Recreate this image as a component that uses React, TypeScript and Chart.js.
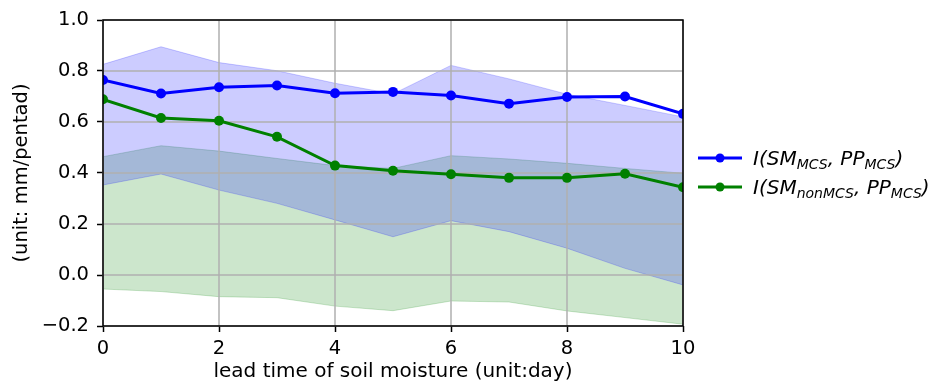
import React, { useEffect, useRef } from "react";
import { Chart, registerables } from "chart.js";

Chart.register(...registerables);

const leadDays = [0, 1, 2, 3, 4, 5, 6, 7, 8, 9, 10];
const mcsMean = [0.765, 0.712, 0.736, 0.743, 0.713, 0.718, 0.704, 0.672, 0.698, 0.7, 0.632];
const mcsUpper = [0.826, 0.895, 0.833, 0.801, 0.752, 0.71, 0.822, 0.769, 0.709, 0.665, 0.62];
const mcsLower = [0.353, 0.396, 0.333, 0.281, 0.216, 0.15, 0.213, 0.17, 0.105, 0.026, -0.039];
const nonMean = [0.689, 0.616, 0.605, 0.542, 0.429, 0.409, 0.395, 0.381, 0.381, 0.397, 0.344];
const nonUpper = [0.464, 0.507, 0.486, 0.457, 0.429, 0.418, 0.468, 0.455, 0.438, 0.418, 0.399];
const nonLower = [-0.055, -0.065, -0.085, -0.089, -0.122, -0.14, -0.102, -0.106, -0.141, -0.167, -0.193];

const yTicks = [-0.2, 0.0, 0.2, 0.4, 0.6, 0.8, 1.0];
const xTicks = [0, 2, 4, 6, 8, 10];

const xTitle = "lead time of soil moisture (unit:day)";
const yTitle = "(unit: mm/pentad)";

type Seg = { t: string; sub?: boolean };
const legendLabels: Seg[][] = [
  [{ t: "I(SM" }, { t: "MCS", sub: true }, { t: ", PP" }, { t: "MCS", sub: true }, { t: ")" }],
  [{ t: "I(SM" }, { t: "nonMCS", sub: true }, { t: ", PP" }, { t: "MCS", sub: true }, { t: ")" }],
];
const legendColors = ["#0000ff", "#008000"];

const FONT = "'DejaVu Sans', sans-serif";
const GRID = "#b0b0b0";

const pts = (ys: number[]) => ys.map((y, i) => ({ x: leadDays[i], y }));

const framePlugin = {
  id: "frame",
  beforeDatasetDraw(chart: any, args: any) {
    // grid above the bands, below the mean lines (matplotlib style)
    if (args.index !== 1) return;
    const { ctx, chartArea, scales } = chart;
    ctx.save();
    ctx.strokeStyle = GRID;
    ctx.lineWidth = 1.5;
    ctx.beginPath();
    xTicks.forEach((v) => {
      const x = scales.x.getPixelForValue(v);
      ctx.moveTo(x, chartArea.top);
      ctx.lineTo(x, chartArea.bottom);
    });
    yTicks.forEach((v) => {
      const y = scales.y.getPixelForValue(v);
      ctx.moveTo(chartArea.left, y);
      ctx.lineTo(chartArea.right, y);
    });
    ctx.stroke();
    ctx.restore();
  },
  afterDraw(chart: any) {
    const { ctx, chartArea } = chart;
    ctx.save();
    ctx.strokeStyle = "#000";
    ctx.lineWidth = 1.5;
    ctx.strokeRect(chartArea.left, chartArea.top, chartArea.right - chartArea.left, chartArea.bottom - chartArea.top);
    ctx.restore();

    // legend
    const fs = 20;
    const subFs = fs * 0.7;
    const rows = [158, 187];
    ctx.save();
    legendLabels.forEach((segs, i) => {
      const y = rows[i];
      ctx.strokeStyle = legendColors[i];
      ctx.fillStyle = legendColors[i];
      ctx.lineWidth = 3;
      ctx.beginPath();
      ctx.moveTo(698, y);
      ctx.lineTo(742, y);
      ctx.stroke();
      ctx.beginPath();
      ctx.arc(720, y, 4.5, 0, Math.PI * 2);
      ctx.fill();
      let x = 753;
      ctx.fillStyle = "#000";
      ctx.textBaseline = "alphabetic";
      ctx.textAlign = "left";
      const base = y + 7;
      segs.forEach((s) => {
        if (s.sub) {
          ctx.font = `italic ${subFs}px ${FONT}`;
          ctx.fillText(s.t, x, base + 3.5);
        } else {
          ctx.font = `italic ${fs}px ${FONT}`;
          ctx.fillText(s.t, x, base);
        }
        x += ctx.measureText(s.t).width;
      });
    });
    ctx.restore();
  },
};

export default function App() {
  const ref = useRef<HTMLCanvasElement>(null);
  useEffect(() => {
    document.body.style.margin = "0";
    const ctx = ref.current!;
    const bandBlue = "rgba(0,0,255,0.2)";
    const bandGreen = "rgba(0,128,0,0.2)";
    const chart = new Chart(ctx, {
      type: "line",
      data: {
        datasets: [
          {
            data: pts(mcsMean),
            borderColor: "#0000ff",
            backgroundColor: "#0000ff",
            borderWidth: 3,
            pointRadius: 5,
            pointBorderWidth: 0,
            fill: false,
          },
          {
            data: pts(nonMean),
            borderColor: "#008000",
            backgroundColor: "#008000",
            borderWidth: 3,
            pointRadius: 5,
            pointBorderWidth: 0,
            fill: false,
          },
          {
            data: pts(mcsUpper),
            borderColor: "rgba(0,0,255,0.2)",
            backgroundColor: bandBlue,
            borderWidth: 1,
            pointRadius: 0,
            fill: "+1",
          },
          {
            data: pts(mcsLower),
            borderColor: "rgba(0,0,255,0.2)",
            backgroundColor: bandBlue,
            borderWidth: 1,
            pointRadius: 0,
            fill: false,
          },
          {
            data: pts(nonUpper),
            borderColor: "rgba(0,128,0,0.2)",
            backgroundColor: bandGreen,
            borderWidth: 1,
            pointRadius: 0,
            fill: "+1",
          },
          {
            data: pts(nonLower),
            borderColor: "rgba(0,128,0,0.2)",
            backgroundColor: bandGreen,
            borderWidth: 1,
            pointRadius: 0,
            fill: false,
          },
        ],
      },
      options: {
        responsive: false,
        animation: false,
        layout: { padding: { left: 0, top: 20, right: 249, bottom: 0 } },
        plugins: {
          legend: { display: false },
          tooltip: { enabled: false },
        },
        elements: { line: { tension: 0 } },
        scales: {
          x: {
            type: "linear",
            min: 0,
            max: 10,
            afterBuildTicks: (s: any) => {
              s.ticks = xTicks.map((v) => ({ value: v }));
            },
            afterFit: (s: any) => {
              s.height = 60;
            },
            ticks: {
              color: "#000",
              font: { family: FONT, size: 19.5 },
              padding: 5,
              maxRotation: 0,
              callback: (v: any) => String(v),
            },
            grid: {
              drawOnChartArea: false,
              color: GRID,
              tickColor: "#000",
              tickLength: 6,
              tickWidth: 1.5,
            },
            border: { display: false },
            title: {
              display: true,
              text: xTitle,
              color: "#000",
              font: { family: FONT, size: 20 },
              padding: { top: 0, bottom: 2 },
            },
          },
          y: {
            type: "linear",
            min: -0.2,
            max: 1.0,
            afterBuildTicks: (s: any) => {
              s.ticks = yTicks.map((v) => ({ value: v }));
            },
            afterFit: (s: any) => {
              s.width = 103;
            },
            ticks: {
              color: "#000",
              font: { family: FONT, size: 19.5 },
              padding: 8,
              callback: (v: any) => {
                const n = Number(v);
                const s = Math.abs(n).toFixed(1);
                return n < -1e-9 ? "\u2212" + s : s;
              },
            },
            grid: {
              drawOnChartArea: false,
              color: GRID,
              tickColor: "#000",
              tickLength: 6,
              tickWidth: 1.5,
            },
            border: { display: false },
            title: {
              display: true,
              text: yTitle,
              color: "#000",
              font: { family: FONT, size: 19.5 },
              padding: { top: 10, bottom: 0 },
            },
          },
        },
      },
      plugins: [framePlugin],
    } as any);
    return () => chart.destroy();
  }, []);
  return (
    <div style={{ width: 932, height: 386, position: "relative" }}>
      <canvas ref={ref} width={932} height={386} style={{ display: "block", width: 932, height: 386 }} />
    </div>
  );
}
